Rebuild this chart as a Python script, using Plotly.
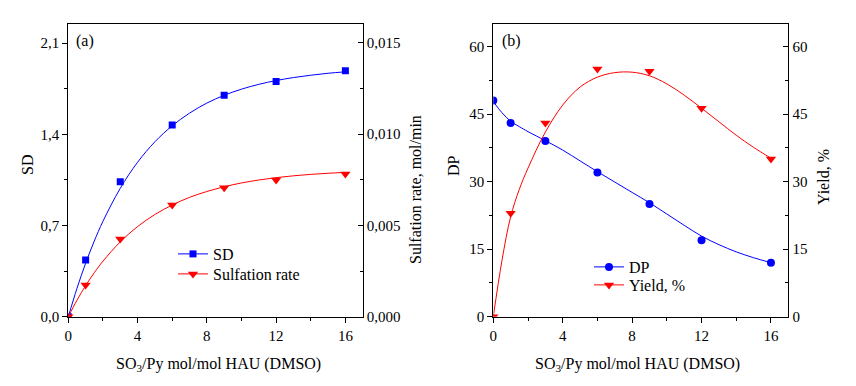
import plotly.graph_objects as go
from plotly.subplots import make_subplots

# ---------------- data ----------------
ratio = [0, 1, 3, 6, 9, 12, 16]

sd = [0.0, 0.435, 1.036, 1.471, 1.700, 1.804, 1.888]
sulf_rate = [0.0, 0.00174, 0.00426, 0.00612, 0.00707, 0.00749, 0.00782]

dp = [48, 43, 39, 32, 25, 17, 12]
yield_pct = [0, 23, 43, 55, 54.5, 46.3, 35]

# fitted curves
fit_x = [0, 0.5, 1, 1.5, 2, 3, 4, 5, 6, 7, 8, 9, 10, 11, 12, 13, 14, 15, 16]
sd_fit = [0, 0.217, 0.410, 0.580, 0.732, 0.985, 1.185, 1.342, 1.465, 1.562,
          1.639, 1.699, 1.746, 1.783, 1.812, 1.835, 1.853, 1.868, 1.879]
rate_fit = [0, 0.00090, 0.00170, 0.00241, 0.00304, 0.00410, 0.00494, 0.00560,
            0.00612, 0.00654, 0.00686, 0.00712, 0.00733, 0.00749, 0.00762,
            0.00772, 0.00780, 0.00786, 0.00791]
dp_fit = [47.8, 45.3, 43.4, 42.2, 41.1, 39.1, 37.0, 34.6, 32.2, 29.9, 27.6,
          25.3, 22.8, 20.3, 17.9, 16.0, 14.4, 13.1, 12.0]
yield_fit = [0, 12.5, 22.2, 28.3, 33.0, 41.0, 47.0, 51.0, 53.2, 54.2, 54.3,
             53.5, 51.7, 49.2, 46.3, 43.3, 40.3, 37.6, 35.2]

x_ticks = [0, 4, 8, 12, 16]
x_title = "SO<sub>3</sub>/Py mol/mol HAU (DMSO)"

# ---------------- figure ----------------
W, H = 856, 386
FONT = "Times New Roman, Liberation Serif, DejaVu Serif, serif"
BLUE = "#0000FF"
RED = "#FF0000"


def px(x):
    return x / W


def py(y):
    return 1 - y / H


fig = make_subplots(rows=1, cols=2,
                    specs=[[{"secondary_y": True}, {"secondary_y": True}]])

# panel (a)
fig.add_trace(go.Scatter(x=fit_x, y=sd_fit, mode="lines", line=dict(color=BLUE, width=1, shape="spline"),
                         showlegend=False, hoverinfo="skip"), row=1, col=1, secondary_y=False)
fig.add_trace(go.Scatter(x=ratio, y=sd, mode="markers", marker=dict(symbol="square", size=7, color=BLUE),
                         showlegend=False), row=1, col=1, secondary_y=False)
fig.add_trace(go.Scatter(x=fit_x, y=rate_fit, mode="lines", line=dict(color=RED, width=1, shape="spline"),
                         showlegend=False, hoverinfo="skip"), row=1, col=1, secondary_y=True)
fig.add_trace(go.Scatter(x=ratio, y=sulf_rate, mode="markers",
                         marker=dict(symbol="triangle-down", size=9, color=RED),
                         showlegend=False), row=1, col=1, secondary_y=True)
fig.add_trace(go.Scatter(x=[None], y=[None], mode="lines+markers", name="SD",
                         line=dict(color=BLUE, width=1), marker=dict(symbol="square", size=7, color=BLUE),
                         legend="legend"), row=1, col=1, secondary_y=False)
fig.add_trace(go.Scatter(x=[None], y=[None], mode="lines+markers", name="Sulfation rate",
                         line=dict(color=RED, width=1), marker=dict(symbol="triangle-down", size=9, color=RED),
                         legend="legend2"), row=1, col=1, secondary_y=True)

# panel (b)
fig.add_trace(go.Scatter(x=fit_x, y=dp_fit, mode="lines", line=dict(color=BLUE, width=1, shape="spline"),
                         showlegend=False, hoverinfo="skip"), row=1, col=2, secondary_y=False)
fig.add_trace(go.Scatter(x=ratio, y=dp, mode="markers", marker=dict(symbol="circle", size=8, color=BLUE),
                         showlegend=False), row=1, col=2, secondary_y=False)
fig.add_trace(go.Scatter(x=fit_x, y=yield_fit, mode="lines", line=dict(color=RED, width=1, shape="spline"),
                         showlegend=False, hoverinfo="skip"), row=1, col=2, secondary_y=True)
fig.add_trace(go.Scatter(x=ratio, y=yield_pct, mode="markers",
                         marker=dict(symbol="triangle-down", size=9, color=RED),
                         showlegend=False), row=1, col=2, secondary_y=True)
fig.add_trace(go.Scatter(x=[None], y=[None], mode="lines+markers", name="DP",
                         line=dict(color=BLUE, width=1), marker=dict(symbol="circle", size=8, color=BLUE),
                         legend="legend3"), row=1, col=2, secondary_y=False)
fig.add_trace(go.Scatter(x=[None], y=[None], mode="lines+markers", name="Yield, %",
                         line=dict(color=RED, width=1), marker=dict(symbol="triangle-down", size=9, color=RED),
                         legend="legend4"), row=1, col=2, secondary_y=True)

# axes
tickfont = dict(family=FONT, size=15, color="black")
common = dict(showline=True, linecolor="black", linewidth=1.2, showgrid=False, zeroline=False,
              tickfont=tickfont, tickcolor="black", ticklen=5, tickwidth=1, automargin=False)

dom_a = [px(68.3), px(362.7)]
dom_b = [px(493.3), px(788.3)]
dom_y = [py(316.7), py(24)]

xcommon = dict(common, range=[0, 17], tickvals=x_ticks, ticks="outside", mirror=True,
               minor=dict(dtick=2, ticks="outside", ticklen=3, tickcolor="black"))

fig.update_layout(
    xaxis=dict(xcommon, domain=dom_a),
    xaxis2=dict(xcommon, domain=dom_b),
    yaxis=dict(common, domain=dom_y, range=[0, 2.246], dtick=0.7, tickformat=".1f", ticks="outside",
               minor=dict(dtick=0.35, ticks="outside", ticklen=3, tickcolor="black")),
    yaxis2=dict(common, range=[0, 0.01604], dtick=0.005, tickformat=".3f", ticks="inside",
                minor=dict(dtick=0.0025, ticks="inside", ticklen=3, tickcolor="black")),
    yaxis3=dict(common, domain=dom_y, range=[0, 65], dtick=15, ticks="outside",
                minor=dict(dtick=7.5, ticks="outside", ticklen=3, tickcolor="black")),
    yaxis4=dict(common, range=[0, 65], dtick=15, ticks="inside",
                minor=dict(dtick=7.5, ticks="inside", ticklen=3, tickcolor="black")),
)

leg_font = dict(family=FONT, size=16, color="black")


def leg(x, y):
    return dict(x=px(x), y=py(y), xanchor="left", yanchor="middle",
                bgcolor="rgba(0,0,0,0)", font=leg_font, itemwidth=30, tracegroupgap=0)


fig.update_layout(
    width=W, height=H,
    margin=dict(l=0, r=0, t=0, b=0, pad=0, autoexpand=False),
    paper_bgcolor="white", plot_bgcolor="white",
    separators=", ",
    font=dict(family=FONT, size=15, color="black"),
    legend=leg(173, 254),
    legend2=leg(173, 274),
    legend3=leg(589, 267),
    legend4=leg(589, 285),
)

title_font = dict(family=FONT, size=16, color="black")
annos = [
    dict(text="SD", x=px(27), y=py(165), textangle=-90),
    dict(text="Sulfation rate, mol/min", x=px(415), y=py(190), textangle=-90),
    dict(text=x_title, x=px(218), y=py(364)),
    dict(text="DP", x=px(453), y=py(165), textangle=-90),
    dict(text="Yield, %", x=px(823), y=py(177), textangle=-90),
    dict(text=x_title, x=px(637), y=py(364)),
    dict(text="(a)", x=px(85), y=py(41)),
    dict(text="(b)", x=px(511), y=py(41)),
]
for a in annos:
    fig.add_annotation(xref="paper", yref="paper", showarrow=False, xanchor="center", yanchor="middle",
                       font=title_font, **a)

fig.write_html("out.html", config={"displayModeBar": False},
               post_script="document.body.style.margin='0px';")
